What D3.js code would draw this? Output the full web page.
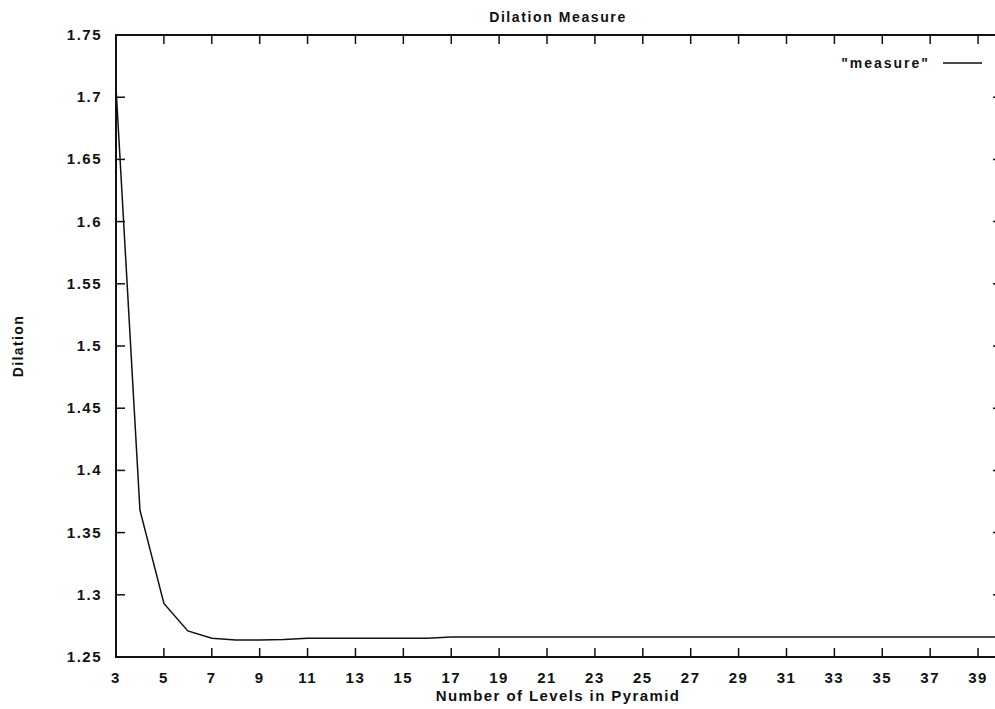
<!DOCTYPE html>
<html>
<head>
<meta charset="utf-8">
<script src="https://cdn.jsdelivr.net/npm/d3@7"></script>
<style>
  body { margin: 0; background: #fff; }
  svg { display: block; }
  text { font-family: "Liberation Sans", Arial, sans-serif; font-weight: bold; fill: #111; }
</style>
</head>
<body>
<svg width="995" height="709"></svg>
<script>
// data
var levels = [3, 4, 5, 6, 7, 8, 9, 10, 11, 12, 13, 14, 15, 16, 17, 18, 19, 20, 21, 22, 23, 24, 25, 26, 27, 28, 29, 30, 31, 32, 33, 34, 35, 36, 37, 38, 39, 40];
var dilation = [1.708, 1.368, 1.293, 1.271, 1.265, 1.2637, 1.2637, 1.264, 1.265, 1.265, 1.265, 1.265, 1.265, 1.265, 1.266, 1.266, 1.266, 1.266, 1.266, 1.266, 1.266, 1.266, 1.266, 1.266, 1.266, 1.266, 1.266, 1.266, 1.266, 1.266, 1.266, 1.266, 1.266, 1.266, 1.266, 1.266, 1.266, 1.266];
var xTicks = d3.range(3, 40, 2);
var yTicks = [1.25, 1.3, 1.35, 1.4, 1.45, 1.5, 1.55, 1.6, 1.65, 1.7, 1.75];

var svg = d3.select("svg"),
    mLeft = 116, mRight = 1002, mTop = 35, mBottom = 657,
    tickLen = 9;

var x = d3.scaleLinear().domain([3, 40]).range([mLeft, mRight]);
var y = d3.scaleLinear().domain([1.25, 1.75]).range([mBottom, mTop]);

var g = svg.append("g");

// ticks on all four sides, pointing inward
g.selectAll(".xt").data(xTicks).enter().append("line")
    .attr("x1", function (d) { return x(d); })
    .attr("x2", function (d) { return x(d); })
    .attr("y1", mBottom).attr("y2", mBottom - tickLen)
    .attr("stroke", "#111").attr("stroke-width", 1.5);
g.selectAll(".xtt").data(xTicks).enter().append("line")
    .attr("x1", function (d) { return x(d); })
    .attr("x2", function (d) { return x(d); })
    .attr("y1", mTop).attr("y2", mTop + tickLen)
    .attr("stroke", "#111").attr("stroke-width", 1.5);
g.selectAll(".yt").data(yTicks).enter().append("line")
    .attr("x1", mLeft).attr("x2", mLeft + tickLen)
    .attr("y1", function (d) { return y(d); })
    .attr("y2", function (d) { return y(d); })
    .attr("stroke", "#111").attr("stroke-width", 1.5);
g.selectAll(".ytr").data(yTicks).enter().append("line")
    .attr("x1", mRight).attr("x2", mRight - tickLen)
    .attr("y1", function (d) { return y(d); })
    .attr("y2", function (d) { return y(d); })
    .attr("stroke", "#111").attr("stroke-width", 1.5);

// frame
g.append("rect")
    .attr("x", mLeft).attr("y", mTop)
    .attr("width", mRight - mLeft).attr("height", mBottom - mTop)
    .attr("fill", "none").attr("stroke", "#111").attr("stroke-width", 2);

// tick labels
g.selectAll(".xl").data(xTicks).enter().append("text")
    .attr("x", function (d) { return x(d); })
    .attr("y", 683)
    .attr("text-anchor", "middle")
    .style("font-size", "15px").style("letter-spacing", "1.5px")
    .text(function (d) { return d; });
g.selectAll(".yl").data(yTicks).enter().append("text")
    .attr("x", 102)
    .attr("y", function (d) { return y(d) + 5; })
    .attr("text-anchor", "end")
    .style("font-size", "15px").style("letter-spacing", "1.5px")
    .text(function (d) { return d; });

// line
var line = d3.line()
    .x(function (d, i) { return x(levels[i]); })
    .y(function (d) { return y(d); });
g.append("path")
    .datum(dilation)
    .attr("d", line)
    .attr("fill", "none").attr("stroke", "#111").attr("stroke-width", 1.5);

// titles
svg.append("text")
    .attr("x", 558).attr("y", 22)
    .attr("text-anchor", "middle")
    .style("font-size", "14px").style("letter-spacing", "1.6px")
    .text("Dilation Measure");
svg.append("text")
    .attr("x", 558).attr("y", 701)
    .attr("text-anchor", "middle")
    .style("font-size", "15px").style("letter-spacing", "1.4px")
    .text("Number of Levels in Pyramid");
svg.append("text")
    .attr("transform", "translate(23," + ((mTop + mBottom) / 2) + ") rotate(-90)")
    .attr("text-anchor", "middle")
    .style("font-size", "14px").style("letter-spacing", "1.4px")
    .text("Dilation");

// legend
svg.append("text")
    .attr("x", 930).attr("y", 68)
    .attr("text-anchor", "end")
    .style("font-size", "14px").style("letter-spacing", "2px")
    .text("\"measure\"");
svg.append("line")
    .attr("x1", 943).attr("x2", 982)
    .attr("y1", 63).attr("y2", 63)
    .attr("stroke", "#111").attr("stroke-width", 1.5);
</script>
</body>
</html>
